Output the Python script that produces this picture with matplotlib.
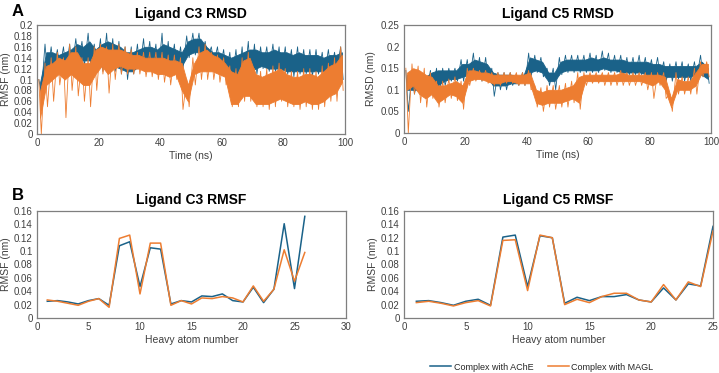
import matplotlib
matplotlib.use("Agg")
import matplotlib.pyplot as plt
import numpy as np
from matplotlib.ticker import FuncFormatter

plt.rcParams['font.family'] = ['Liberation Sans', 'DejaVu Sans']

BLUE = '#1a6289'
ORANGE = '#ed7d31'

# ---------------- RMSD data: 2-ns bins ----------------
# *_lo / *_hi : extreme values (spikes) in each bin
# *_blo / *_bhi : dense body of the trace in each bin
bin_start = list(range(0, 100, 2))

c3_ache_lo = [0.075, 0.11, 0.115, 0.12, 0.115, 0.12, 0.13, 0.125, 0.13, 0.12,
              0.115, 0.12, 0.115, 0.11, 0.10, 0.11, 0.12, 0.12, 0.12, 0.11,
              0.11, 0.12, 0.115, 0.12, 0.14, 0.145, 0.14, 0.14, 0.13, 0.12,
              0.11, 0.10, 0.10, 0.10, 0.10, 0.11, 0.12, 0.115, 0.115, 0.11,
              0.11, 0.105, 0.11, 0.11, 0.105, 0.11, 0.11, 0.115, 0.12, 0.10]
c3_ache_hi = [0.10, 0.165, 0.16, 0.155, 0.16, 0.165, 0.175, 0.17, 0.185, 0.165,
              0.175, 0.185, 0.175, 0.17, 0.16, 0.16, 0.165, 0.175, 0.17, 0.165,
              0.185, 0.17, 0.165, 0.16, 0.18, 0.185, 0.185, 0.17, 0.16, 0.16,
              0.155, 0.15, 0.155, 0.16, 0.17, 0.165, 0.16, 0.16, 0.165, 0.16,
              0.16, 0.155, 0.16, 0.155, 0.155, 0.155, 0.15, 0.155, 0.15, 0.16]
c3_ache_blo = [0.08, 0.12, 0.125, 0.125, 0.125, 0.13, 0.135, 0.135, 0.135, 0.13,
               0.125, 0.13, 0.125, 0.12, 0.115, 0.115, 0.125, 0.125, 0.125, 0.12,
               0.12, 0.125, 0.12, 0.125, 0.145, 0.15, 0.15, 0.145, 0.135, 0.125,
               0.12, 0.11, 0.11, 0.115, 0.115, 0.12, 0.125, 0.12, 0.12, 0.12,
               0.115, 0.115, 0.115, 0.115, 0.115, 0.115, 0.115, 0.12, 0.125, 0.11]
c3_ache_bhi = [0.095, 0.15, 0.15, 0.145, 0.15, 0.155, 0.165, 0.16, 0.17, 0.155,
               0.165, 0.17, 0.165, 0.16, 0.15, 0.15, 0.155, 0.16, 0.16, 0.155,
               0.165, 0.16, 0.155, 0.15, 0.17, 0.175, 0.175, 0.16, 0.15, 0.15,
               0.145, 0.14, 0.145, 0.15, 0.155, 0.155, 0.15, 0.15, 0.155, 0.15,
               0.15, 0.145, 0.15, 0.145, 0.145, 0.145, 0.14, 0.145, 0.145, 0.15]

c3_magl_lo = [0.0, 0.05, 0.06, 0.09, 0.03, 0.08, 0.07, 0.06, 0.05, 0.08,
              0.11, 0.075, 0.10, 0.11, 0.11, 0.11, 0.11, 0.105, 0.105, 0.10,
              0.095, 0.09, 0.10, 0.045, 0.05, 0.09, 0.10, 0.10, 0.10, 0.095,
              0.09, 0.05, 0.05, 0.06, 0.06, 0.05, 0.05, 0.045, 0.05, 0.06,
              0.05, 0.05, 0.045, 0.05, 0.045, 0.045, 0.05, 0.06, 0.06, 0.08]
c3_magl_hi = [0.10, 0.13, 0.14, 0.15, 0.14, 0.165, 0.16, 0.14, 0.14, 0.16,
              0.165, 0.16, 0.165, 0.165, 0.16, 0.155, 0.15, 0.15, 0.15, 0.15,
              0.15, 0.145, 0.145, 0.14, 0.10, 0.14, 0.16, 0.165, 0.15, 0.145,
              0.14, 0.125, 0.12, 0.14, 0.15, 0.12, 0.115, 0.12, 0.125, 0.13,
              0.12, 0.115, 0.115, 0.12, 0.12, 0.115, 0.125, 0.13, 0.14, 0.16]
c3_magl_blo = [0.03, 0.09, 0.10, 0.11, 0.10, 0.11, 0.10, 0.09, 0.09, 0.11,
               0.125, 0.11, 0.12, 0.125, 0.12, 0.12, 0.12, 0.115, 0.115, 0.11,
               0.11, 0.105, 0.11, 0.08, 0.06, 0.11, 0.115, 0.115, 0.115, 0.11,
               0.105, 0.055, 0.055, 0.07, 0.07, 0.055, 0.055, 0.055, 0.06, 0.065,
               0.06, 0.055, 0.055, 0.06, 0.055, 0.055, 0.06, 0.07, 0.075, 0.095]
c3_magl_bhi = [0.08, 0.125, 0.13, 0.14, 0.135, 0.15, 0.15, 0.13, 0.13, 0.155,
               0.16, 0.155, 0.155, 0.155, 0.15, 0.145, 0.145, 0.14, 0.14, 0.14,
               0.14, 0.135, 0.135, 0.13, 0.09, 0.13, 0.15, 0.155, 0.145, 0.14,
               0.13, 0.115, 0.11, 0.135, 0.14, 0.11, 0.105, 0.11, 0.115, 0.12,
               0.11, 0.105, 0.105, 0.11, 0.11, 0.105, 0.115, 0.125, 0.13, 0.145]

c5_ache_lo = [0.05, 0.09, 0.09, 0.095, 0.10, 0.085, 0.11, 0.12, 0.12, 0.12,
              0.125, 0.13, 0.12, 0.12, 0.085, 0.10, 0.10, 0.11, 0.11, 0.11,
              0.13, 0.14, 0.13, 0.11, 0.10, 0.135, 0.14, 0.14, 0.14, 0.14,
              0.14, 0.14, 0.145, 0.14, 0.14, 0.135, 0.135, 0.135, 0.135, 0.13,
              0.13, 0.13, 0.12, 0.12, 0.125, 0.12, 0.12, 0.13, 0.13, 0.115]
c5_ache_hi = [0.145, 0.14, 0.13, 0.135, 0.145, 0.15, 0.15, 0.15, 0.15, 0.17,
              0.17, 0.185, 0.175, 0.175, 0.15, 0.14, 0.14, 0.14, 0.135, 0.14,
              0.185, 0.18, 0.175, 0.15, 0.15, 0.175, 0.18, 0.18, 0.18, 0.18,
              0.185, 0.18, 0.19, 0.185, 0.18, 0.18, 0.175, 0.175, 0.18, 0.175,
              0.17, 0.175, 0.165, 0.16, 0.165, 0.165, 0.16, 0.165, 0.18, 0.16]
c5_ache_blo = [0.10, 0.10, 0.10, 0.105, 0.11, 0.11, 0.12, 0.125, 0.125, 0.13,
               0.135, 0.14, 0.13, 0.13, 0.11, 0.11, 0.11, 0.115, 0.115, 0.12,
               0.14, 0.145, 0.14, 0.12, 0.12, 0.14, 0.145, 0.145, 0.145, 0.145,
               0.145, 0.145, 0.15, 0.145, 0.145, 0.14, 0.14, 0.14, 0.14, 0.135,
               0.135, 0.135, 0.13, 0.13, 0.13, 0.13, 0.13, 0.135, 0.135, 0.125]
c5_ache_bhi = [0.135, 0.13, 0.125, 0.13, 0.14, 0.145, 0.145, 0.145, 0.145, 0.16,
               0.16, 0.17, 0.165, 0.16, 0.14, 0.135, 0.135, 0.135, 0.13, 0.135,
               0.175, 0.17, 0.165, 0.14, 0.14, 0.165, 0.17, 0.17, 0.17, 0.17,
               0.175, 0.17, 0.175, 0.17, 0.17, 0.17, 0.165, 0.165, 0.165, 0.165,
               0.16, 0.16, 0.155, 0.155, 0.155, 0.155, 0.155, 0.155, 0.165, 0.15]

c5_magl_lo = [0.0, 0.09, 0.07, 0.06, 0.08, 0.06, 0.07, 0.08, 0.075, 0.055,
              0.11, 0.12, 0.12, 0.115, 0.11, 0.11, 0.115, 0.115, 0.11, 0.11,
              0.10, 0.06, 0.05, 0.06, 0.055, 0.06, 0.06, 0.07, 0.055, 0.11,
              0.115, 0.115, 0.11, 0.11, 0.11, 0.11, 0.11, 0.11, 0.11, 0.10,
              0.08, 0.11, 0.08, 0.05, 0.09, 0.09, 0.09, 0.09, 0.13, 0.13]
c5_magl_hi = [0.15, 0.16, 0.155, 0.15, 0.14, 0.12, 0.12, 0.125, 0.13, 0.12,
              0.15, 0.15, 0.145, 0.145, 0.14, 0.14, 0.14, 0.14, 0.14, 0.14,
              0.145, 0.11, 0.105, 0.11, 0.11, 0.11, 0.115, 0.12, 0.14, 0.14,
              0.14, 0.14, 0.14, 0.14, 0.14, 0.145, 0.14, 0.14, 0.14, 0.14,
              0.14, 0.14, 0.14, 0.09, 0.14, 0.13, 0.13, 0.15, 0.165, 0.165]
c5_magl_blo = [0.10, 0.11, 0.09, 0.08, 0.09, 0.07, 0.08, 0.09, 0.085, 0.07,
               0.12, 0.125, 0.125, 0.12, 0.115, 0.115, 0.12, 0.12, 0.115, 0.115,
               0.115, 0.07, 0.065, 0.07, 0.07, 0.07, 0.075, 0.08, 0.07, 0.12,
               0.12, 0.12, 0.12, 0.12, 0.12, 0.12, 0.12, 0.12, 0.12, 0.115,
               0.11, 0.12, 0.10, 0.06, 0.10, 0.10, 0.10, 0.11, 0.14, 0.14]
c5_magl_bhi = [0.14, 0.15, 0.145, 0.135, 0.13, 0.11, 0.11, 0.115, 0.12, 0.11,
               0.145, 0.145, 0.14, 0.14, 0.135, 0.135, 0.135, 0.135, 0.135, 0.135,
               0.14, 0.10, 0.095, 0.10, 0.10, 0.10, 0.105, 0.11, 0.13, 0.135,
               0.135, 0.135, 0.135, 0.135, 0.135, 0.14, 0.135, 0.135, 0.135, 0.135,
               0.135, 0.135, 0.13, 0.08, 0.125, 0.12, 0.12, 0.14, 0.16, 0.16]

# ---------------- RMSF data ----------------
c3_atoms = list(range(1, 27))
c3_rmsf_ache = [0.025, 0.026, 0.024, 0.021, 0.026, 0.029, 0.019, 0.108, 0.114, 0.047,
                0.105, 0.103, 0.021, 0.026, 0.024, 0.033, 0.032, 0.036, 0.026, 0.024,
                0.046, 0.023, 0.043, 0.141, 0.044, 0.152]
c3_rmsf_magl = [0.027, 0.025, 0.022, 0.019, 0.025, 0.029, 0.016, 0.119, 0.124, 0.036,
                0.112, 0.112, 0.019, 0.026, 0.021, 0.030, 0.029, 0.032, 0.030, 0.024,
                0.048, 0.025, 0.043, 0.102, 0.055, 0.098]
c5_atoms = list(range(1, 26))
c5_rmsf_ache = [0.025, 0.026, 0.023, 0.019, 0.025, 0.028, 0.019, 0.121, 0.124, 0.047,
                0.123, 0.120, 0.022, 0.031, 0.026, 0.032, 0.032, 0.035, 0.027, 0.024,
                0.045, 0.027, 0.051, 0.048, 0.137]
c5_rmsf_magl = [0.023, 0.025, 0.022, 0.018, 0.023, 0.026, 0.018, 0.116, 0.117, 0.041,
                0.124, 0.120, 0.020, 0.028, 0.023, 0.032, 0.037, 0.037, 0.027, 0.024,
                0.050, 0.027, 0.054, 0.047, 0.130]

labels = ['Complex with AChE', 'Complex with MAGL']

W, H = 719, 373
fig = plt.figure(figsize=(W / 100, H / 100), dpi=100)

def rect(x0, y0, x1, y1):
    return [x0 / W, 1 - y1 / H, (x1 - x0) / W, (y1 - y0) / H]

ax1 = fig.add_axes(rect(37, 25, 345, 134))
ax2 = fig.add_axes(rect(404, 25, 711, 133))
ax3 = fig.add_axes(rect(37, 211, 346, 318))
ax4 = fig.add_axes(rect(404, 211, 713, 318))

TICK_C = '#404040'

def style(ax):
    for s in ax.spines.values():
        s.set_color('#7f7f7f')
        s.set_linewidth(0.9)
    ax.tick_params(length=0, labelsize=7, colors=TICK_C, pad=3)
    ax.yaxis.set_major_formatter(FuncFormatter(lambda v, p: ('%g' % round(v, 4))))

def band(ax, lo, hi, blo, bhi, color):
    centers = [t + 1 for t in bin_start]
    ax.fill_between(centers, blo, bhi, color=color, lw=0.6, edgecolor=color, zorder=2)
    xs, ys = [], []
    for t, l, h in zip(bin_start, lo, hi):
        xs += [t + 0.6, t + 1.4]
        ys += [h, l]
    ax.plot(xs, ys, color=color, lw=0.6, zorder=2)

# Top-left
band(ax1, c3_ache_lo, c3_ache_hi, c3_ache_blo, c3_ache_bhi, BLUE)
band(ax1, c3_magl_lo, c3_magl_hi, c3_magl_blo, c3_magl_bhi, ORANGE)
ax1.set_xlim(0, 100)
ax1.set_ylim(0, 0.2)
ax1.set_yticks(np.arange(0, 0.2001, 0.02))
ax1.set_xticks(range(0, 101, 20))
ax1.set_xlabel('Time (ns)', fontsize=7.5, color=TICK_C, labelpad=2)
ax1.set_ylabel('RMSF (nm)', fontsize=7.5, color=TICK_C, labelpad=2)
ax1.set_title('Ligand C3 RMSD', fontsize=10, fontweight='bold', pad=5)
style(ax1)

# Top-right
band(ax2, c5_ache_lo, c5_ache_hi, c5_ache_blo, c5_ache_bhi, BLUE)
band(ax2, c5_magl_lo, c5_magl_hi, c5_magl_blo, c5_magl_bhi, ORANGE)
ax2.set_xlim(0, 100)
ax2.set_ylim(0, 0.25)
ax2.set_yticks(np.arange(0, 0.2501, 0.05))
ax2.set_xticks(range(0, 101, 20))
ax2.set_xlabel('Time (ns)', fontsize=7.5, color=TICK_C, labelpad=2)
ax2.set_ylabel('RMSD (nm)', fontsize=7.5, color=TICK_C, labelpad=4)
ax2.set_title('Ligand C5 RMSD', fontsize=10, fontweight='bold', pad=5)
style(ax2)

# Bottom-left
ax3.plot(c3_atoms, c3_rmsf_ache, color=BLUE, lw=1.1)
ax3.plot(c3_atoms, c3_rmsf_magl, color=ORANGE, lw=1.1)
ax3.set_xlim(0, 30)
ax3.set_ylim(0, 0.16)
ax3.set_yticks(np.arange(0, 0.1601, 0.02))
ax3.set_xticks(range(0, 31, 5))
ax3.set_xlabel('Heavy atom number', fontsize=7.5, color=TICK_C, labelpad=2)
ax3.set_ylabel('RMSF (nm)', fontsize=7.5, color=TICK_C, labelpad=2)
ax3.set_title('Ligand C3 RMSF', fontsize=10, fontweight='bold', pad=5)
style(ax3)

# Bottom-right
l1, = ax4.plot(c5_atoms, c5_rmsf_ache, color=BLUE, lw=1.1)
l2, = ax4.plot(c5_atoms, c5_rmsf_magl, color=ORANGE, lw=1.1)
ax4.set_xlim(0, 25)
ax4.set_ylim(0, 0.16)
ax4.set_yticks(np.arange(0, 0.1601, 0.02))
ax4.set_xticks(range(0, 26, 5))
ax4.set_xlabel('Heavy atom number', fontsize=7.5, color=TICK_C, labelpad=2)
ax4.set_ylabel('RMSF (nm)', fontsize=7.5, color=TICK_C, labelpad=2)
ax4.set_title('Ligand C5 RMSF', fontsize=10, fontweight='bold', pad=5)
style(ax4)

fig.legend([l1, l2], labels, loc='center', bbox_to_anchor=(542 / W, 1 - 367 / H),
           ncol=2, frameon=False, fontsize=6.5, handlelength=2.3, handletextpad=0.3,
           columnspacing=1.6, labelcolor='#262626')

fig.text(12 / W, 1 - 12 / H, 'A', fontsize=12, fontweight='bold', va='center', ha='left')
fig.text(12 / W, 1 - 196 / H, 'B', fontsize=12, fontweight='bold', va='center', ha='left')

fig.savefig('out.png', dpi=100)
